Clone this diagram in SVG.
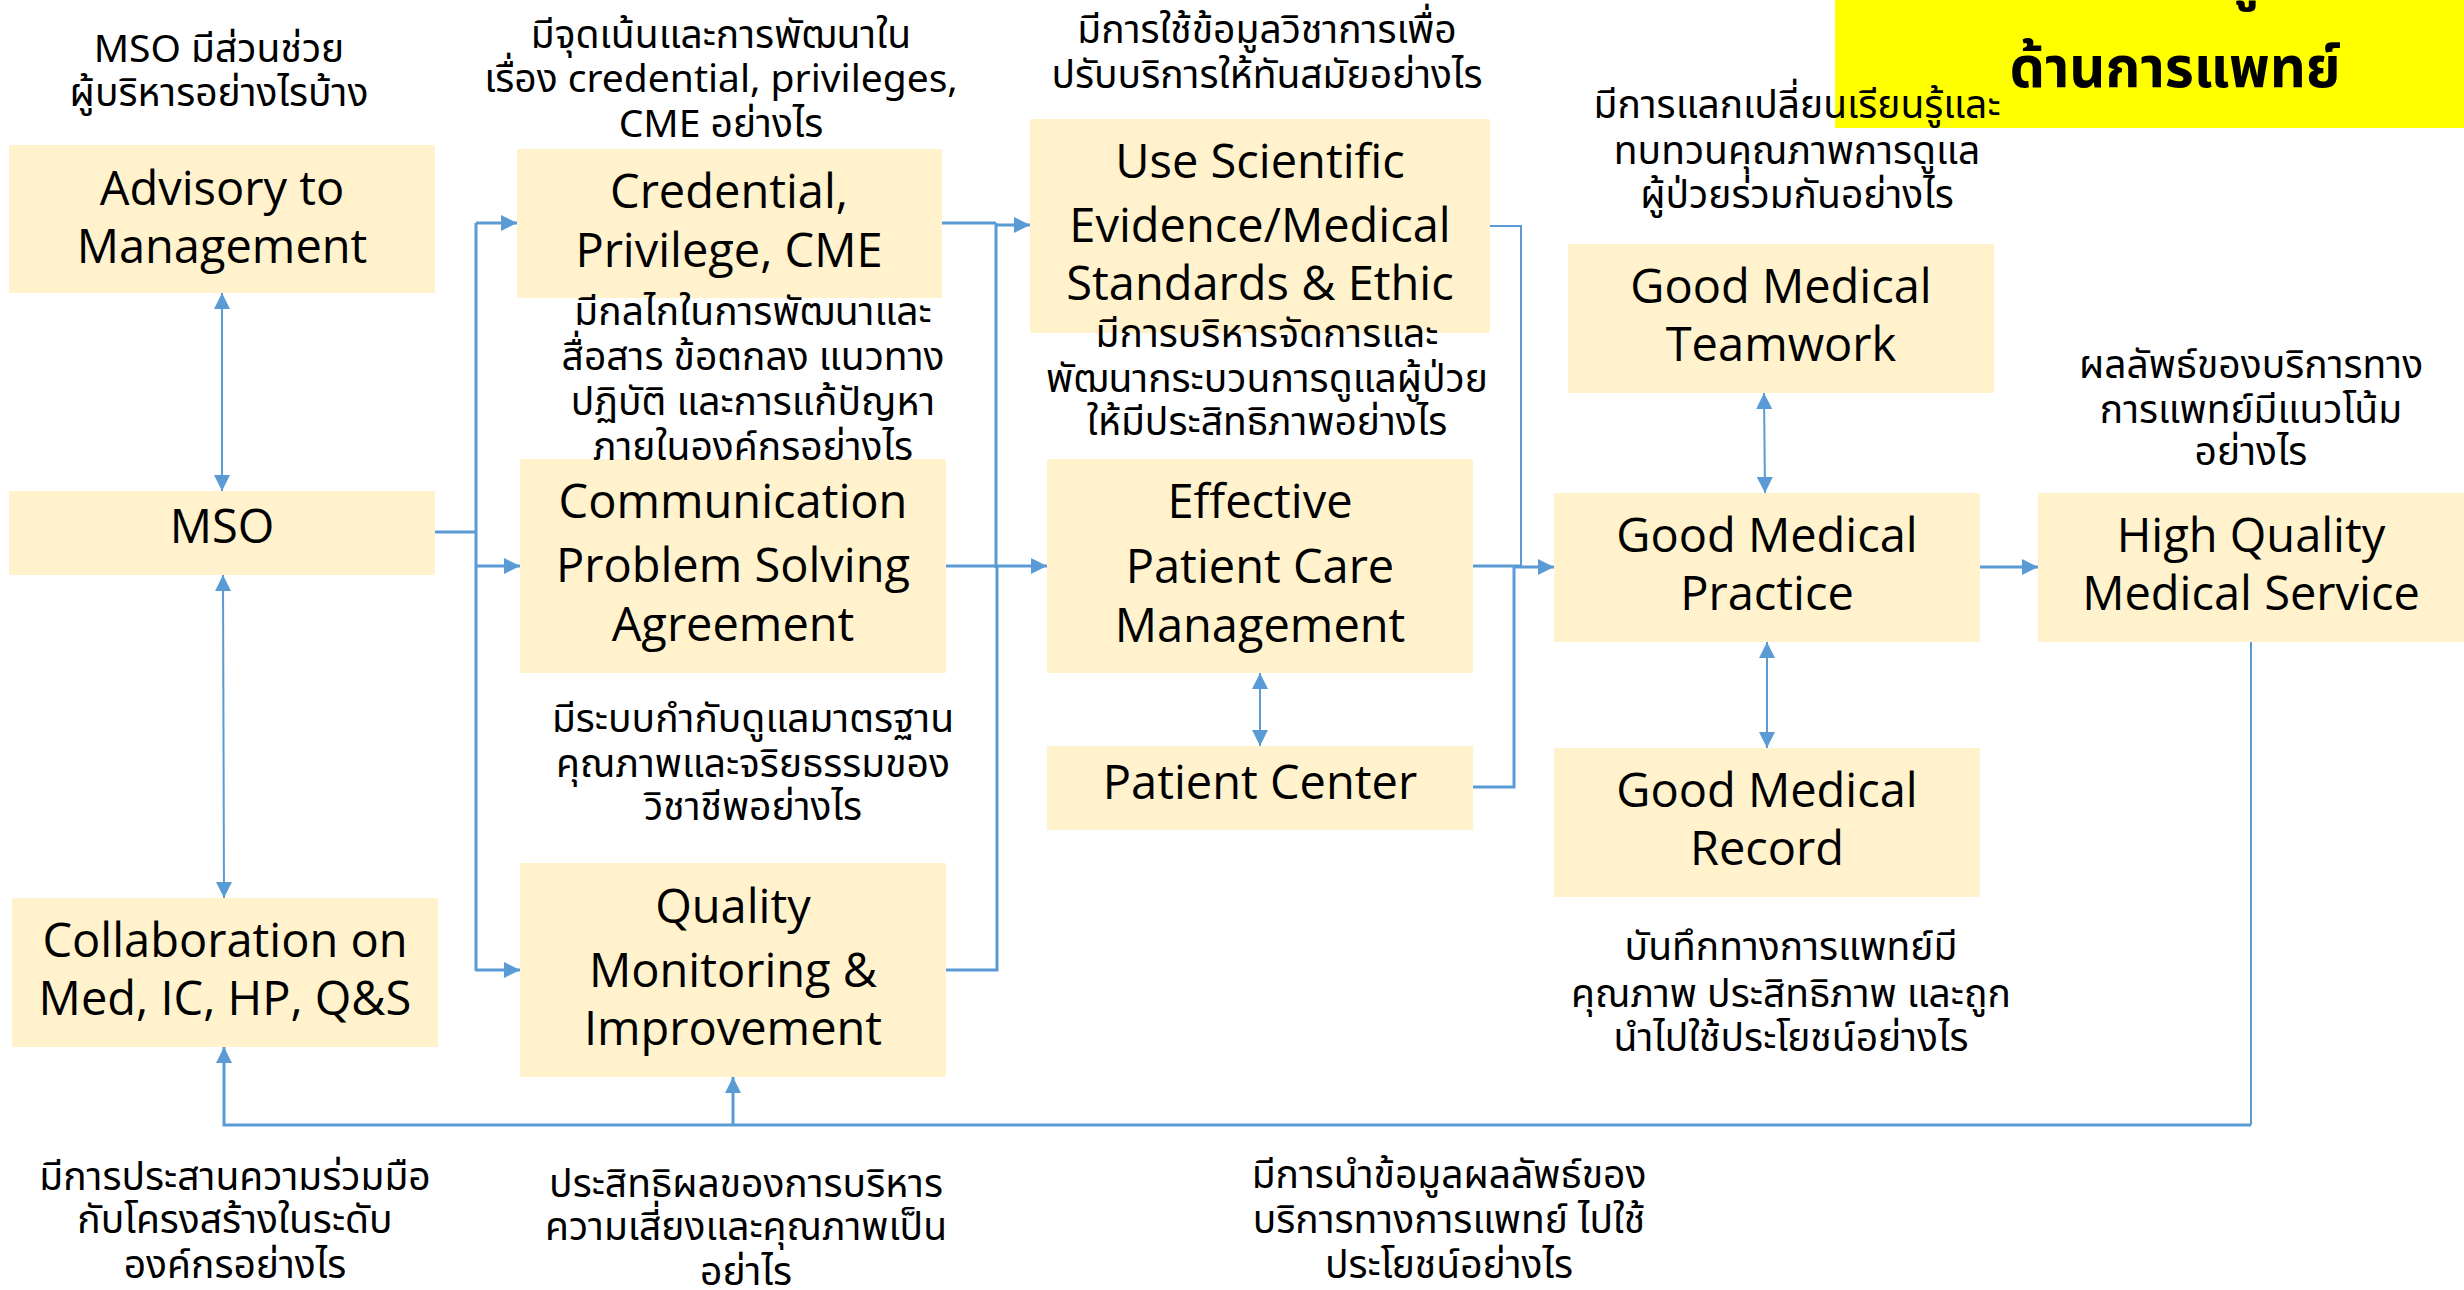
<svg xmlns="http://www.w3.org/2000/svg" width="2464" height="1290" viewBox="0 0 2464 1290">
<defs>
<style>
.box{fill:#FFF2CC;}
.nt{font-family:"Open Sans","Noto Sans",sans-serif;font-size:47px;fill:#000;text-anchor:middle;}
.th{font-family:"Noto Sans Thai","Noto Sans Thai UI","Noto Sans","Open Sans",sans-serif;font-size:39px;fill:#000;text-anchor:middle;}
.title{font-family:"Noto Sans Thai","Noto Sans Thai UI","Noto Sans",sans-serif;font-size:56px;font-weight:bold;fill:#000;text-anchor:middle;}
.c{fill:none;stroke:#5B9BD5;stroke-width:3;}
.ct{fill:none;stroke:#5B9BD5;stroke-width:2;}
</style>
<marker id="ah" markerUnits="userSpaceOnUse" markerWidth="16" markerHeight="16" refX="16" refY="8" orient="auto-start-reverse" viewBox="0 0 16 16">
<path d="M0,0 L16,8 L0,16 z" fill="#5B9BD5"/>
</marker>
</defs>
<rect width="2464" height="1290" fill="#FFFFFF"/>

<g id="title">
<rect x="1835" y="0" width="629" height="128" fill="#FFFF00"/>
<text class="title" x="2241" y="-3">ผู้</text>
<text class="title" x="2175" y="87">ด้านการแพทย์</text>
</g>

<g id="connectors">
<line class="ct" x1="222" y1="293" x2="222" y2="491" marker-start="url(#ah)" marker-end="url(#ah)"/>
<line class="ct" x1="223" y1="575" x2="224" y2="898" marker-start="url(#ah)" marker-end="url(#ah)"/>
<polyline class="c" points="435,532 476,532"/>
<line class="c" x1="476" y1="223" x2="476" y2="971"/>
<line class="c" x1="476" y1="223" x2="517" y2="223" marker-end="url(#ah)"/>
<line class="c" x1="476" y1="566" x2="520" y2="566" marker-end="url(#ah)"/>
<line class="c" x1="476" y1="970" x2="520" y2="970" marker-end="url(#ah)"/>
<polyline class="c" points="942,223 996,223"/>
<polyline class="c" points="946,566 997,566"/>
<polyline class="c" points="946,970 997,970 997,566"/>
<line class="c" x1="996" y1="223" x2="996" y2="568"/>
<line class="c" x1="996" y1="225" x2="1030" y2="225" marker-end="url(#ah)"/>
<line class="c" x1="997" y1="566" x2="1047" y2="566" marker-end="url(#ah)"/>
<polyline class="ct" points="1490,226 1521,226 1521,567"/>
<polyline class="c" points="1473,566 1521,566"/>
<polyline class="c" points="1473,787 1514,787 1514,566"/>
<line class="c" x1="1514" y1="567" x2="1554" y2="567" marker-end="url(#ah)"/>
<line class="ct" x1="1260" y1="673" x2="1260" y2="746" marker-start="url(#ah)" marker-end="url(#ah)"/>
<line class="ct" x1="1764" y1="393" x2="1765" y2="493" marker-start="url(#ah)" marker-end="url(#ah)"/>
<line class="ct" x1="1767" y1="642" x2="1767" y2="748" marker-start="url(#ah)" marker-end="url(#ah)"/>
<line class="c" x1="1980" y1="567" x2="2038" y2="567" marker-end="url(#ah)"/>
<polyline class="ct" points="2251,642 2251,1125"/>
<polyline class="c" points="2251,1125 224,1125 224,1047" marker-end="url(#ah)"/>
<line class="c" x1="733" y1="1125" x2="733" y2="1077" marker-end="url(#ah)"/>
</g>

<g id="advisory">
<rect class="box" x="9" y="145" width="426" height="148"/>
<text class="nt" x="222" y="205">Advisory to</text>
<text class="nt" x="222" y="263">Management</text>
</g>
<g id="mso">
<rect class="box" x="9" y="491" width="426" height="84"/>
<text class="nt" x="222" y="543">MSO</text>
</g>
<g id="collaboration">
<rect class="box" x="12" y="898" width="426" height="149"/>
<text class="nt" x="225" y="957">Collaboration on</text>
<text class="nt" x="225" y="1015">Med, IC, HP, Q&amp;S</text>
</g>
<g id="credential">
<rect class="box" x="517" y="149" width="425" height="149"/>
<text class="nt" x="729" y="208">Credential,</text>
<text class="nt" x="729" y="267">Privilege, CME</text>
</g>
<g id="communication">
<rect class="box" x="520" y="459" width="426" height="214"/>
<text class="nt" x="733" y="518">Communication</text>
<text class="nt" x="733" y="582">Problem Solving</text>
<text class="nt" x="733" y="641">Agreement</text>
</g>
<g id="quality">
<rect class="box" x="520" y="863" width="426" height="214"/>
<text class="nt" x="733" y="923">Quality</text>
<text class="nt" x="733" y="987">Monitoring &amp;</text>
<text class="nt" x="733" y="1045">Improvement</text>
</g>
<g id="scientific">
<rect class="box" x="1030" y="119" width="460" height="214"/>
<text class="nt" x="1260" y="178">Use Scientific</text>
<text class="nt" x="1260" y="242">Evidence/Medical</text>
<text class="nt" x="1260" y="300">Standards &amp; Ethic</text>
</g>
<g id="effective">
<rect class="box" x="1047" y="459" width="426" height="214"/>
<text class="nt" x="1260" y="518">Effective</text>
<text class="nt" x="1260" y="583">Patient Care</text>
<text class="nt" x="1260" y="642">Management</text>
</g>
<g id="patientcenter">
<rect class="box" x="1047" y="746" width="426" height="84"/>
<text class="nt" x="1260" y="799">Patient Center</text>
</g>
<g id="teamwork">
<rect class="box" x="1568" y="244" width="426" height="149"/>
<text class="nt" x="1781" y="303">Good Medical</text>
<text class="nt" x="1781" y="361">Teamwork</text>
</g>
<g id="practice">
<rect class="box" x="1554" y="493" width="426" height="149"/>
<text class="nt" x="1767" y="552">Good Medical</text>
<text class="nt" x="1767" y="610">Practice</text>
</g>
<g id="record">
<rect class="box" x="1554" y="748" width="426" height="149"/>
<text class="nt" x="1767" y="807">Good Medical</text>
<text class="nt" x="1767" y="865">Record</text>
</g>
<g id="highquality">
<rect class="box" x="2038" y="493" width="426" height="149"/>
<text class="nt" x="2251" y="552">High Quality</text>
<text class="nt" x="2251" y="610">Medical Service</text>
</g>

<g id="annotations">
<text class="th" x="219" y="62">MSO มีส่วนช่วย</text>
<text class="th" x="219" y="106">ผู้บริหารอย่างไรบ้าง</text>

<text class="th" x="721" y="48">มีจุดเน้นและการพัฒนาใน</text>
<text class="th" x="721" y="92">เรื่อง credential, privileges,</text>
<text class="th" x="721" y="137">CME อย่างไร</text>

<text class="th" x="753" y="325">มีกลไกในการพัฒนาและ</text>
<text class="th" x="753" y="370">สื่อสาร ข้อตกลง แนวทาง</text>
<text class="th" x="753" y="415">ปฏิบัติ และการแก้ปัญหา</text>
<text class="th" x="753" y="460">ภายในองค์กรอย่างไร</text>

<text class="th" x="1267" y="43">มีการใช้ข้อมูลวิชาการเพื่อ</text>
<text class="th" x="1267" y="88">ปรับบริการให้ทันสมัยอย่างไร</text>

<text class="th" x="1797" y="118">มีการแลกเปลี่ยนเรียนรู้และ</text>
<text class="th" x="1797" y="164">ทบทวนคุณภาพการดูแล</text>
<text class="th" x="1797" y="208">ผู้ป่วยร่วมกันอย่างไร</text>

<text class="th" x="1267" y="347">มีการบริหารจัดการและ</text>
<text class="th" x="1267" y="392">พัฒนากระบวนการดูแลผู้ป่วย</text>
<text class="th" x="1267" y="435">ให้มีประสิทธิภาพอย่างไร</text>

<text class="th" x="2251" y="378">ผลลัพธ์ของบริการทาง</text>
<text class="th" x="2251" y="423">การแพทย์มีแนวโน้ม</text>
<text class="th" x="2251" y="465">อย่างไร</text>

<text class="th" x="753" y="732">มีระบบกำกับดูแลมาตรฐาน</text>
<text class="th" x="753" y="777">คุณภาพและจริยธรรมของ</text>
<text class="th" x="753" y="820">วิชาชีพอย่างไร</text>

<text class="th" x="1791" y="960">บันทึกทางการแพทย์มี</text>
<text class="th" x="1791" y="1007">คุณภาพ ประสิทธิภาพ และถูก</text>
<text class="th" x="1791" y="1051">นำไปใช้ประโยชน์อย่างไร</text>

<text class="th" x="235" y="1190">มีการประสานความร่วมมือ</text>
<text class="th" x="235" y="1233">กับโครงสร้างในระดับ</text>
<text class="th" x="235" y="1278">องค์กรอย่างไร</text>

<text class="th" x="746" y="1197">ประสิทธิผลของการบริหาร</text>
<text class="th" x="746" y="1240">ความเสี่ยงและคุณภาพเป็น</text>
<text class="th" x="746" y="1285">อย่าไร</text>

<text class="th" x="1449" y="1188">มีการนำข้อมูลผลลัพธ์ของ</text>
<text class="th" x="1449" y="1233">บริการทางการแพทย์ ไปใช้</text>
<text class="th" x="1449" y="1278">ประโยชน์อย่างไร</text>
</g>
</svg>
